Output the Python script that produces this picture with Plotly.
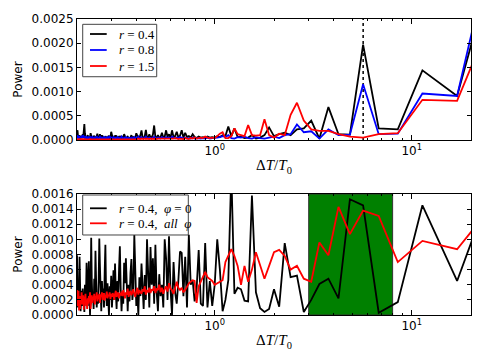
import math
import plotly.graph_objects as go

# harmonic number k (170 down to 1); period in units of T0 is SPAN / k
SPAN = 34.0
harmonic = list(range(170, 0, -1))
period = [SPAN / k for k in harmonic]

# power values in units of 1e-4, ordered like `harmonic`
top_r04 = [
    1.8, 2.0, 0.8, 0.4, 1.0, 0.5, 0.3, 0.9, 0.4, 0.6,
    0.5, 1.2, 0.6, 2.2, 3.3, 1.4, 0.5, 0.8, 0.4, 0.6,
    1.0, 0.5, 0.3, 0.7, 0.5, 1.4, 0.6, 0.3, 0.5, 0.4,
    0.6, 0.9, 0.4, 0.5, 0.3, 0.7, 1.3, 0.5, 0.4, 0.6,
    1.2, 0.5, 0.3, 1.0, 0.4, 0.6, 0.5, 0.3, 0.8, 0.4,
    0.5, 0.3, 0.6, 0.9, 0.4, 0.5, 1.7, 0.6, 0.4, 0.5,
    0.7, 0.4, 1.0, 0.5, 0.3, 0.6, 0.4, 0.8, 0.5, 0.3,
    0.6, 0.4, 1.2, 0.5, 0.3, 0.5, 0.7, 0.4, 0.3, 0.5,
    1.0, 0.4, 0.6, 0.3, 0.5, 1.4, 0.6, 0.4, 0.5, 1.0,
    2.0, 0.6, 0.4, 0.8, 2.1, 0.5, 0.4, 1.2, 0.5, 0.6,
    1.1, 3.0, 0.6, 0.5, 1.0, 0.4, 0.6, 1.5, 0.5, 0.7,
    2.0, 0.6, 1.2, 0.4, 2.0, 0.6, 0.8, 1.7, 0.5, 0.9,
    2.0, 0.5, 1.5, 0.6, 0.8, 0.5, 1.2, 0.6, 0.4, 0.7,
    0.5, 0.6, 0.4, 0.7, 0.5, 0.6,
    0.5, 0.8, 0.6, 1.0, 0.8, 2.8, 0.8, 2.4, 0.6, 0.7, 0.4, 0.5, 1.0, 0.3,
    0.5, 1.0, 2.6, 0.8, 1.2, 1.5, 1.0, 2.2, 2.4, 4.0,
    0.3, 6.8, 1.2, 1.1, 19.7, 2.4, 2.2, 14.4, 9.1, 53.4,
]
top_r08 = [
    0.6, 1.0, 0.4, 0.3, 0.8, 0.5, 0.3, 0.6, 0.4, 0.9,
    0.5, 0.7, 1.0, 0.4, 0.6, 0.3, 0.5, 0.8, 0.4, 0.3,
    0.5, 0.4, 0.7, 0.3, 0.5, 0.6, 0.3, 0.4, 0.6, 0.3,
    0.4, 0.5, 0.3, 0.6, 0.4, 0.8, 0.5, 0.3, 0.4, 0.5,
    0.7, 0.4, 0.3, 0.5, 0.4, 0.3, 0.6, 0.4, 0.5, 0.3,
    0.4, 0.6, 0.3, 0.5, 0.8, 0.4, 0.3, 0.5, 0.4, 0.6,
    0.3, 0.5, 0.4, 0.3, 0.6, 0.4, 0.5, 0.3, 0.4, 0.7,
    0.4, 0.3, 0.5, 0.4, 0.6, 0.3, 0.4, 0.5, 0.3, 0.4,
    0.5, 0.3, 0.4, 0.6, 0.3, 0.5, 0.4, 0.7, 0.3, 0.4,
    0.6, 0.4, 0.3, 0.5, 0.7, 0.4, 0.3, 0.5, 0.4, 0.3,
    0.5, 0.7, 0.4, 0.3, 0.5, 0.4, 0.3, 0.6, 0.4, 0.3,
    0.6, 0.4, 0.5, 0.3, 0.7, 0.4, 0.3, 0.5, 0.4, 0.6,
    0.4, 0.3, 0.5, 0.3, 0.4, 0.3, 0.5, 0.3, 0.4, 0.3,
    0.3, 0.4, 0.3, 0.5, 0.3, 0.4,
    0.4, 0.5, 0.6, 0.8, 0.6, 1.0, 0.4, 0.3, 0.6, 0.5, 0.7, 0.4, 0.3, 0.6,
    0.4, 0.3, 0.5, 0.7, 0.4, 1.0, 1.2, 3.2, 1.6, 1.8,
    0.3, 2.2, 1.0, 1.1, 11.5, 1.2, 1.3, 9.6, 9.1, 62.0,
]
top_r15 = [
    0.2, 0.1, 0.2, 0.1, 0.2, 0.1, 0.1, 0.2, 0.1, 0.2,
    0.1, 0.2, 0.1, 0.1, 0.2, 0.1, 0.2, 0.1, 0.1, 0.2,
    0.1, 0.1, 0.2, 0.1, 0.2, 0.1, 0.1, 0.2, 0.1, 0.2,
    0.1, 0.2, 0.1, 0.1, 0.2, 0.1, 0.2, 0.1, 0.1, 0.2,
    0.1, 0.2, 0.1, 0.2, 0.1, 0.1, 0.2, 0.1, 0.2, 0.1,
    0.2, 0.1, 0.1, 0.2, 0.1, 0.2, 0.1, 0.2, 0.1, 0.1,
    0.2, 0.1, 0.2, 0.1, 0.2, 0.2, 0.1, 0.2, 0.1, 0.2,
    0.1, 0.2, 0.2, 0.1, 0.2, 0.1, 0.2, 0.2, 0.1, 0.2,
    0.2, 0.1, 0.2, 0.2, 0.1, 0.2, 0.2, 0.3, 0.2, 0.2,
    0.3, 0.2, 0.2, 0.3, 0.2, 0.3, 0.2, 0.2, 0.3, 0.2,
    0.3, 0.2, 0.3, 0.2, 0.3, 0.3, 0.2, 0.3, 0.2, 0.3,
    0.3, 0.2, 0.3, 0.3, 0.2, 0.3, 0.4, 0.3, 0.2, 0.3,
    0.3, 0.2, 0.4, 0.3, 0.2, 0.4, 0.3, 0.5, 0.3, 0.4,
    0.5, 0.4, 0.7, 0.5, 0.4, 0.5,
    0.4, 0.8, 1.3, 1.6, 0.4, 0.4, 0.8, 2.4, 1.2, 1.0, 0.8, 3.1, 1.0, 0.9,
    1.0, 4.3, 1.0, 0.5, 1.3, 1.0, 5.2, 7.7, 4.0, 2.2,
    1.9, 1.9, 1.2, 0.7, 0.5, 1.2, 1.4, 8.3, 8.1, 37.5,
]
bot_phi0 = [
    7.9, 3.5, 1.0, 3.0, 1.8, 7.7, 4.0, 0.5, 2.2, 3.2,
    1.2, 3.5, 2.0, 2.5, 0.4, 4.0, 1.5, 2.8, 6.9, 2.0,
    1.2, 4.5, 7.1, 3.0, 0.0, 3.5, 10.2, 4.5, 2.0, 3.0,
    0.8, 4.8, 2.5, 8.5, 3.5, 1.0, 2.8, 1.5, 4.5, 10.1,
    6.4, 2.0, 0.5, 4.5, 2.2, 3.5, 1.0, 5.8, 9.3, 3.0,
    1.2, 4.2, 2.5, 0.0, 3.8, 2.0, 5.2, 1.0, 3.0, 5.9,
    2.0, 6.8, 3.0, 0.8, 4.5, 1.8, 6.0, 9.1, 3.5, 0.5,
    3.0, 1.5, 6.9, 4.2, 7.5, 2.5, 0.5, 4.0, 1.8, 5.5,
    7.4, 2.0, 3.5, 10.6, 4.0, 1.2, 3.0, 0.0, 5.0, 2.5,
    6.8, 3.0, 0.8, 5.3, 2.0, 10.0, 3.5, 1.0, 9.0, 4.0,
    7.5, 1.5, 9.3, 3.0, 0.5, 5.4, 2.5, 4.0, 1.0, 10.0,
    7.5, 2.0, 10.4, 3.5, 0.0, 7.0, 3.0, 1.5, 4.5, 8.4,
    8.2, 2.5, 7.7, 1.0, 10.6, 4.0, 4.6, 1.8, 3.5, 8.6,
    1.5, 1.2, 9.5, 1.0, 4.5, 1.2,
    4.0, 10.0, 6.0, 0.5, 2.0, 4.6, 19.0, 2.8, 3.6, 3.4, 1.9, 1.8, 15.8, 3.0,
    0.9, 0.4, 0.8, 3.4, 1.1, 9.5, 5.0, 5.2, 0.4, 2.0,
    4.1, 4.8, 2.2, 15.3, 14.5, 0.3, 1.7, 14.5, 4.5, 25.8,
]
bot_allphi = [
    3.3, 1.2, 2.0, 3.2, 0.6, 2.5, 0.8, 2.0, 1.8, 3.0,
    1.4, 2.2, 2.6, 0.7, 2.4, 1.6, 2.8, 1.2, 2.0, 0.8,
    2.2, 1.5, 2.5, 1.8, 3.0, 0.8, 2.2, 2.6, 1.6, 2.4,
    2.0, 2.8, 1.4, 2.5, 2.2, 3.0, 1.8, 2.6, 2.1, 2.8,
    1.6, 2.7, 2.4, 3.0, 2.0, 2.5, 2.9, 1.9, 2.6, 2.3,
    3.1, 2.2, 2.7, 2.5, 3.0, 2.1, 2.8, 2.4, 2.9, 2.6,
    2.0, 2.8, 3.2, 2.4, 2.7, 3.0, 2.2, 2.9, 2.6, 3.1,
    2.5, 3.3, 2.8, 2.2, 3.0, 2.7, 3.5, 2.4, 2.9, 3.2,
    2.6, 3.0, 3.4, 2.8, 2.4, 3.1, 3.6, 2.7, 3.3, 3.0,
    2.8, 3.4, 3.1, 3.8, 2.7, 3.3, 3.0, 3.6, 2.9, 3.4,
    3.2, 3.8, 2.9, 3.5, 3.3, 4.0, 3.0, 3.6, 2.8, 3.4,
    3.8, 3.1, 4.2, 3.5, 3.3, 2.8, 3.7, 4.4, 3.6, 3.3,
    3.6, 3.0, 3.3, 3.8, 4.2, 4.4, 4.6, 4.5, 1.6, 3.8,
    4.4, 5.0, 5.7, 5.0, 4.7, 4.5,
    4.0, 4.2, 4.4, 4.6, 7.0, 7.8, 8.7, 7.8, 6.5, 4.0, 6.5, 4.4, 6.0, 8.3,
    6.5, 4.8, 6.5, 8.3, 8.6, 7.8, 6.0, 6.5, 4.8, 4.4,
    9.6, 7.9, 14.3, 10.7, 13.8, 13.1, 7.0, 9.8, 8.7, 18.4,
]

dotted_at = 5.67          # marked period in the top panel
band = (3.0, 8.0)         # shaded period band in the bottom panel

top_series = [
    (top_r04, "black", "<i>r</i> = 0.4"),
    (top_r08, "blue", "<i>r</i> = 0.8"),
    (top_r15, "red", "<i>r</i> = 1.5"),
]
bot_series = [
    (bot_phi0, "black", "<i>r</i> = 0.4,  <i>φ</i> = 0"),
    (bot_allphi, "red", "<i>r</i> = 0.4,  <i>all  φ</i>"),
]


def scaled(vals):
    return [v * 1e-4 for v in vals]


fig = go.Figure()

for vals, col, name in top_series:
    fig.add_trace(go.Scatter(x=period, y=scaled(vals), mode="lines", name=name,
                             line=dict(color=col, width=1.8),
                             xaxis="x", yaxis="y", showlegend=False))
for vals, col, name in bot_series:
    fig.add_trace(go.Scatter(x=period, y=scaled(vals), mode="lines", name=name,
                             line=dict(color=col, width=1.8),
                             xaxis="x2", yaxis="y2", showlegend=False))

fig.add_shape(type="line", x0=dotted_at, x1=dotted_at, xref="x",
              y0=0, y1=1, yref="y domain", layer="below",
              line=dict(color="black", width=1.5, dash="dot"))
fig.add_shape(type="rect", x0=band[0], x1=band[1], xref="x2",
              y0=0, y1=1, yref="y2 domain", layer="below",
              fillcolor="#008000", line=dict(color="#333333", width=1))


# matplotlib-style legend boxes drawn in paper coordinates
def add_legend(series, box, rows):
    x0, x1, y0, y1 = box
    fig.add_shape(type="rect", xref="paper", yref="paper", x0=x0, x1=x1, y0=y0, y1=y1,
                  fillcolor="white", line=dict(color="#444444", width=1), layer="above")
    for (vals, col, name), yr in zip(series, rows):
        fig.add_shape(type="line", xref="paper", yref="paper", x0=0.033, x1=0.0754,
                      y0=yr, y1=yr, line=dict(color=col, width=1.8), layer="above")
        fig.add_annotation(xref="paper", yref="paper", x=0.1023, y=yr, text=name,
                           showarrow=False, xanchor="left", yanchor="middle",
                           font=dict(family="Liberation Serif", size=13, color="black"))


add_legend(top_series, (0.0145, 0.2023, 0.805, 0.982), [0.9493, 0.8953, 0.8412])
add_legend(bot_series, (0.0145, 0.2825, 0.2703, 0.4054), [0.3605, 0.3098])

minor_vals = [0.2, 0.3, 0.4, 0.5, 0.6, 0.7, 0.8, 0.9,
              2, 3, 4, 5, 6, 7, 8, 9, 20]
xcommon = dict(
    type="log", range=[math.log10(0.2), math.log10(20)],
    tickvals=[1, 10], ticktext=["10<sup>0</sup>", "10<sup>1</sup>"],
    ticks="inside", ticklen=5, tickcolor="black",
    minor=dict(tickvals=minor_vals, ticks="inside", ticklen=2, tickcolor="black"),
    showline=True, linecolor="black", linewidth=1, mirror="allticks",
    showgrid=False, zeroline=False, automargin=False,
    tickfont=dict(family="DejaVu Sans", size=12),
    title=dict(text="Δ<i>T</i>/<i>T</i><sub>0</sub>",
               font=dict(family="Liberation Serif", size=15), standoff=2),
)
ycommon = dict(
    ticks="inside", ticklen=4, tickcolor="black", tickformat=".4f",
    showline=True, linecolor="black", linewidth=1, mirror="allticks",
    showgrid=False, zeroline=False, automargin=False,
    tickfont=dict(family="DejaVu Sans", size=12),
    title=dict(text="Power", font=dict(family="DejaVu Sans", size=12), standoff=6),
)

fig.update_layout(
    width=485, height=363,
    margin=dict(l=77, r=14, t=19, b=48),
    paper_bgcolor="white", plot_bgcolor="white",
    font=dict(family="DejaVu Sans", size=12, color="black"),
    showlegend=False,
    xaxis=dict(xcommon, domain=[0, 1], anchor="y"),
    yaxis=dict(ycommon, domain=[0.5912, 1], anchor="x", range=[0, 0.0025], dtick=0.0005),
    xaxis2=dict(xcommon, domain=[0, 1], anchor="y2"),
    yaxis2=dict(ycommon, domain=[0, 0.4088], anchor="x2", range=[0, 0.0016], dtick=0.0002),
)

fig.write_html("out.html", config={"displayModeBar": False},
               post_script="document.body.style.margin='0';")
